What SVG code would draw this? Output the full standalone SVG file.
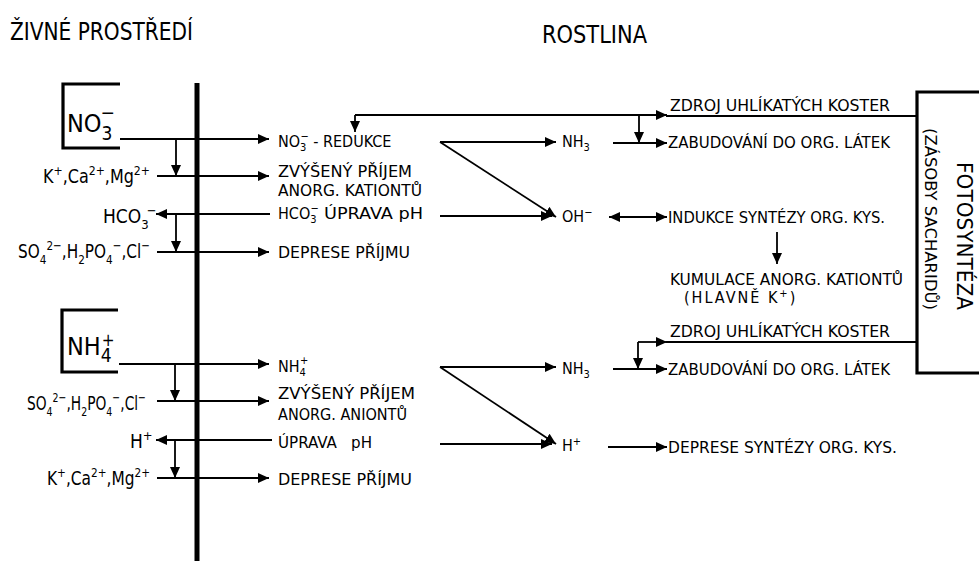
<svg xmlns="http://www.w3.org/2000/svg" width="979" height="561" viewBox="0 0 979 561">
<style>
text{font-family:"DejaVu Sans Condensed","Liberation Sans",Arial,sans-serif;fill:#000}
.t{font-size:25px}
.m{font-size:16px}
.l{font-size:19px}
.s{font-size:11px}
.ls{font-size:13px}
.ln{stroke:#000;stroke-width:1.8;fill:none}
.a{marker-end:url(#ah)}
.br{stroke:#000;stroke-width:3.2;fill:none}
</style>
<defs>
<marker id="ah" markerUnits="userSpaceOnUse" markerWidth="12" markerHeight="10" refX="11" refY="5" orient="auto">
<path d="M0,0 L11,5 L0,10 z" fill="#000"/>
</marker>
<marker id="ahs" markerUnits="userSpaceOnUse" markerWidth="12" markerHeight="10" refX="11" refY="5" orient="auto-start-reverse">
<path d="M0,0 L11,5 L0,10 z" fill="#000"/>
</marker>
</defs>
<rect width="979" height="561" fill="#fff"/>

<g id="titles">
<text class="t" x="10" y="40" textLength="183" lengthAdjust="spacingAndGlyphs">ŽIVNÉ PROSTŘEDÍ</text>
<text class="t" x="542" y="43" textLength="105" lengthAdjust="spacingAndGlyphs">ROSTLINA</text>
</g>

<g id="membrane">
<path d="M197,83 V561" stroke="#000" stroke-width="5" fill="none"/>
</g>

<g id="no3-box">
<path class="br" d="M120,84 H63 V148 H120"/>
<text x="67" y="132" font-size="25">NO<tspan font-size="19" dy="8">3</tspan><tspan font-size="19" dx="-12" dy="-21">−</tspan></text>
</g>

<g id="nh4-box">
<path class="br" d="M118,310 H62 V372 H118"/>
<text x="67" y="355" font-size="25">NH<tspan font-size="19" dy="7">4</tspan><tspan font-size="17" dx="-10" dy="-16">+</tspan></text>
</g>

<g id="left-labels">
<text class="l" x="43" y="183" textLength="107" lengthAdjust="spacingAndGlyphs">K<tspan class="ls" dy="-8">+</tspan><tspan dy="8">,Ca</tspan><tspan class="ls" dy="-8">2+</tspan><tspan dy="8">,Mg</tspan><tspan class="ls" dy="-8">2+</tspan></text>
<text class="l" x="103" y="223">HCO<tspan class="ls" dy="6">3</tspan><tspan class="ls" dx="-2" dy="-14">−</tspan></text>
<text class="l" x="18" y="258" textLength="132" lengthAdjust="spacingAndGlyphs">SO<tspan class="ls" dy="6">4</tspan><tspan class="ls" dy="-14">2−</tspan><tspan dy="8">,H</tspan><tspan class="ls" dy="6">2</tspan><tspan dy="-6">PO</tspan><tspan class="ls" dy="6">4</tspan><tspan class="ls" dy="-14">−</tspan><tspan dy="8">,Cl</tspan><tspan class="ls" dy="-8">−</tspan></text>
<text class="l" x="27" y="410" textLength="119" lengthAdjust="spacingAndGlyphs">SO<tspan class="ls" dy="6">4</tspan><tspan class="ls" dy="-14">2−</tspan><tspan dy="8">,H</tspan><tspan class="ls" dy="6">2</tspan><tspan dy="-6">PO</tspan><tspan class="ls" dy="6">4</tspan><tspan class="ls" dy="-14">−</tspan><tspan dy="8">,Cl</tspan><tspan class="ls" dy="-8">−</tspan></text>
<text class="l" x="130" y="448">H<tspan class="ls" dy="-8">+</tspan></text>
<text class="l" x="47" y="485" textLength="103" lengthAdjust="spacingAndGlyphs">K<tspan class="ls" dy="-8">+</tspan><tspan dy="8">,Ca</tspan><tspan class="ls" dy="-8">2+</tspan><tspan dy="8">,Mg</tspan><tspan class="ls" dy="-8">2+</tspan></text>
</g>

<g id="no3-effects">
<text class="m" x="278" y="147">NO<tspan class="s" dy="4">3</tspan><tspan class="s" dx="-6" dy="-11">−</tspan><tspan dy="7"> - REDUKCE</tspan></text>
<text class="m" x="278" y="177" textLength="134" lengthAdjust="spacingAndGlyphs">ZVÝŠENÝ PŘÍJEM</text>
<text class="m" x="278" y="196" textLength="144" lengthAdjust="spacingAndGlyphs">ANORG. KATIONTŮ</text>
<text class="m" x="278" y="219">HCO<tspan class="s" dy="4">3</tspan><tspan class="s" dx="-6" dy="-11">−</tspan></text>
<text class="m" x="324" y="219" textLength="99" lengthAdjust="spacingAndGlyphs">ÚPRAVA pH</text>
<text class="m" x="278" y="258" textLength="132" lengthAdjust="spacingAndGlyphs">DEPRESE PŘÍJMU</text>
</g>

<g id="nh4-effects">
<text class="m" x="278" y="372">NH<tspan class="s" dy="4">4</tspan><tspan class="s" dx="-6" dy="-12">+</tspan></text>
<text class="m" x="278" y="399" textLength="137" lengthAdjust="spacingAndGlyphs">ZVÝŠENÝ PŘÍJEM</text>
<text class="m" x="278" y="420" textLength="129" lengthAdjust="spacingAndGlyphs">ANORG. ANIONTŮ</text>
<text class="m" x="278" y="448" textLength="94" lengthAdjust="spacingAndGlyphs" xml:space="preserve">ÚPRAVA   pH</text>
<text class="m" x="278" y="485" textLength="134" lengthAdjust="spacingAndGlyphs">DEPRESE PŘÍJMU</text>
</g>

<g id="products">
<text class="m" x="562" y="147">NH<tspan class="s" dy="4">3</tspan></text>
<text class="m" x="562" y="222">OH<tspan class="s" dy="-6">−</tspan></text>
<text class="m" x="562" y="374">NH<tspan class="s" dy="4">3</tspan></text>
<text class="m" x="562" y="451">H<tspan class="s" dy="-6">+</tspan></text>
</g>

<g id="right-labels">
<text class="m" x="670" y="111" textLength="220" lengthAdjust="spacingAndGlyphs">ZDROJ UHLÍKATÝCH KOSTER</text>
<text class="m" x="668" y="148" textLength="222" lengthAdjust="spacingAndGlyphs">ZABUDOVÁNÍ DO ORG. LÁTEK</text>
<text class="m" x="668" y="223" textLength="217" lengthAdjust="spacingAndGlyphs">INDUKCE SYNTÉZY ORG. KYS.</text>
<text class="m" x="670" y="285" textLength="233" lengthAdjust="spacingAndGlyphs">KUMULACE ANORG. KATIONTŮ</text>
<text class="m" x="684" y="303" letter-spacing="2">(HLAVNĚ K<tspan class="s" dy="-6">+</tspan><tspan dy="6">)</tspan></text>
<text class="m" x="670" y="337" textLength="220" lengthAdjust="spacingAndGlyphs">ZDROJ UHLÍKATÝCH KOSTER</text>
<text class="m" x="668" y="375" textLength="222" lengthAdjust="spacingAndGlyphs">ZABUDOVÁNÍ DO ORG. LÁTEK</text>
<text class="m" x="668" y="453" textLength="229" lengthAdjust="spacingAndGlyphs">DEPRESE SYNTÉZY ORG. KYS.</text>
</g>

<g id="fotosynteza">
<path class="br" d="M979,92 H917 V373 H979"/>
<text transform="translate(957,162) rotate(90)" font-size="22" textLength="148" lengthAdjust="spacingAndGlyphs">FOTOSYNTÉZA</text>
<text transform="translate(925,128) rotate(90)" font-size="16" textLength="182" lengthAdjust="spacingAndGlyphs">(ZÁSOBY SACHARIDŮ)</text>
</g>

<g id="connectors">
<path class="ln a" d="M120,139 H269"/>
<path class="ln a" d="M176,139 V176"/>
<path class="ln a" d="M157,176 H269"/>
<path class="ln a" d="M270,214 H156"/>
<path class="ln a" d="M176,214 V252"/>
<path class="ln a" d="M157,252 H269"/>
<path class="ln a" d="M119,364 H269"/>
<path class="ln a" d="M175,364 V401"/>
<path class="ln a" d="M157,401 H269"/>
<path class="ln a" d="M272,440 H156"/>
<path class="ln a" d="M175,440 V478"/>
<path class="ln a" d="M157,478 H269"/>
<path class="ln" d="M917,116 H666"/>
<path class="ln a" d="M355,115 H667"/>
<path class="ln a" d="M355,115 V132"/>
<path class="ln a" d="M639,116 V143"/>
<path class="ln a" d="M613,143 H667"/>
<path class="ln a" d="M440,142 H556"/>
<path class="ln a" d="M440,142 L556,217"/>
<path class="ln a" d="M440,216 H552"/>
<path class="ln" style="marker-start:url(#ahs);marker-end:url(#ah)" d="M609,217 H667"/>
<path class="ln a" d="M777,232 V264"/>
<path class="ln" d="M917,342 H666"/>
<path class="ln a" d="M638,342 H667"/>
<path class="ln a" d="M638,342 V369"/>
<path class="ln a" d="M613,369 H667"/>
<path class="ln a" d="M440,367 H556"/>
<path class="ln a" d="M440,367 L556,444"/>
<path class="ln a" d="M440,444 H552"/>
<path class="ln a" d="M608,447 H667"/>
</g>
</svg>
